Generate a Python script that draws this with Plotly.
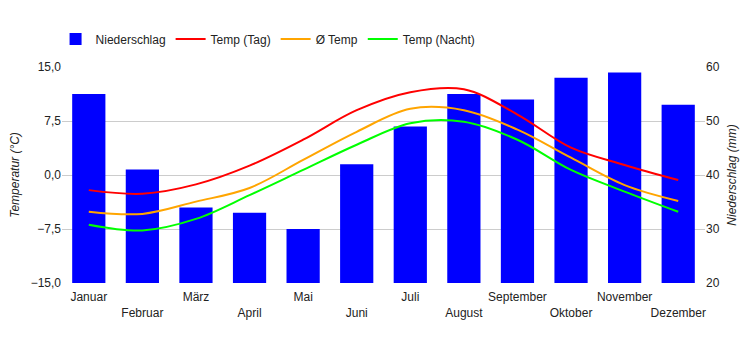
import plotly.graph_objects as go

months = ["Januar", "Februar", "März", "April", "Mai", "Juni", "Juli",
          "August", "September", "Oktober", "November", "Dezember"]
niederschlag = [55, 41, 34, 33, 30, 42, 49, 55, 54, 58, 59, 53]
temp_tag = [-2.1, -2.6, -1.3, 1.3, 4.9, 9.0, 11.5, 11.9, 8.4, 3.8, 1.4, -0.7]
temp_avg = [-5.1, -5.4, -3.7, -1.8, 2.1, 6.0, 9.2, 9.0, 6.3, 2.4, -1.4, -3.6]
temp_nacht = [-6.9, -7.7, -6.1, -2.8, 0.7, 4.2, 7.2, 7.4, 4.9, 0.7, -2.3, -5.1]
temp_ticks = [-15, -7.5, 0, 7.5, 15]
mm_ticks = [20, 30, 40, 50, 60]

tick_text = [m if i % 2 == 0 else "<br>" + m for i, m in enumerate(months)]

fig = go.Figure()
fig.add_trace(go.Bar(x=months, y=niederschlag, name="Niederschlag",
                     marker=dict(color="#0000ff", line=dict(width=0)),
                     yaxis="y", width=0.62))
for name, vals, col in [("Temp (Tag)", temp_tag, "#ff0000"),
                        ("Ø Temp", temp_avg, "#ffa500"),
                        ("Temp (Nacht)", temp_nacht, "#00ff00")]:
    fig.add_trace(go.Scatter(x=months, y=vals, name=name, mode="lines",
                             line=dict(color=col, width=2, shape="spline", smoothing=1),
                             yaxis="y2"))

fig.update_layout(
    width=750, height=350,
    margin=dict(l=62, r=45, t=67, b=67, autoexpand=False),
    paper_bgcolor="white", plot_bgcolor="white",
    font=dict(family="Liberation Sans, Arial, sans-serif", size=12, color="#222222"),
    separators=",.",
    showlegend=True,
    legend=dict(orientation="h", x=-0.01, xanchor="left", y=1.13, yanchor="middle",
                font=dict(size=12, color="#222222"), traceorder="normal"),
    xaxis=dict(tickmode="array", tickvals=months, ticktext=tick_text, tickangle=0,
               ticklabelstandoff=5,
               showgrid=False, showline=False, ticks="", tickfont=dict(size=12)),
    yaxis=dict(side="right", range=[20, 60], tickvals=mm_ticks,
               showgrid=True, gridcolor="#cccccc", zeroline=False,
               title=dict(text="<i>Niederschlag (mm)</i>", font=dict(size=12), standoff=8)),
    yaxis2=dict(side="left", overlaying="y", range=[-15, 15], tickvals=temp_ticks,
                tickformat=".1f", showgrid=False, zeroline=False,
                title=dict(text="<i>Temperatur (°C)</i>", font=dict(size=12), standoff=8)),
)

fig.write_html("out.html")
